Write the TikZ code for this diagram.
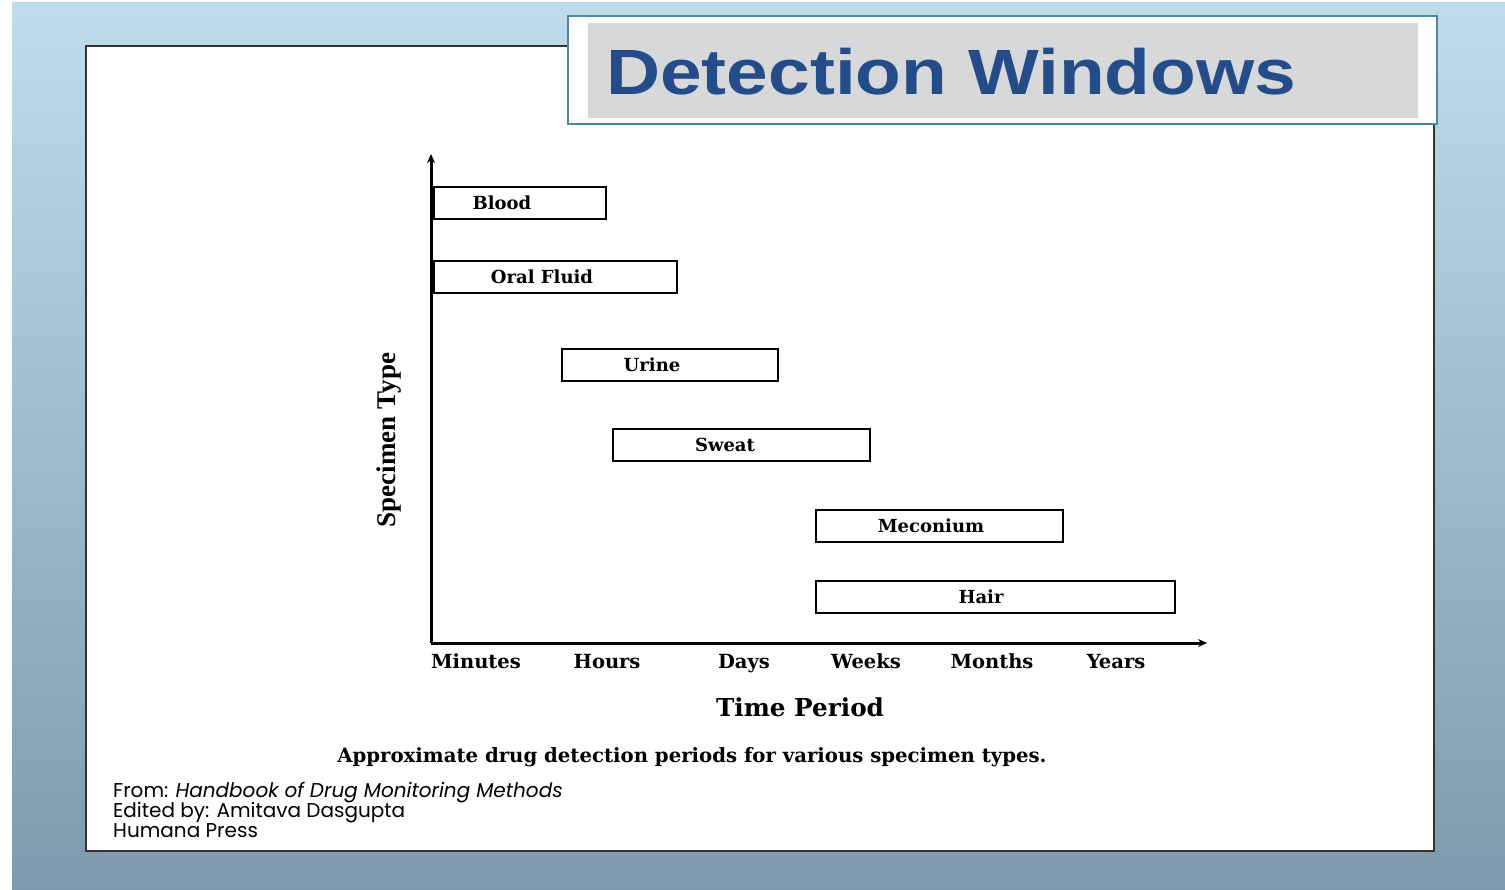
\documentclass[tikz,border=0pt]{standalone}
\usepackage{fontspec}
\usepackage{tikz}
\usetikzlibrary{arrows.meta}
\setmainfont{DejaVu Serif}
\newfontfamily\titlefont{Liberation Sans}
\newfontfamily\sidefont{Liberation Serif}
\newfontfamily\notefont{Poppins}
\definecolor{bgtop}{HTML}{BFDCEA}
\definecolor{bgbot}{HTML}{7D9BAC}
\definecolor{titleblue}{HTML}{244C88}
\definecolor{titleedge}{HTML}{4A88A6}
\definecolor{titlegrey}{HTML}{D7D8DA}

\begin{document}
\begin{tikzpicture}[x=1pt,y=-1pt,
  bar/.style={draw,line width=2pt,fill=white,anchor=west,minimum height=32pt,inner sep=0pt},
  barlabel/.style={font=\fontsize{18}{18}\selectfont\bfseries},
  tick/.style={anchor=base,font=\fontsize{19.5}{19.5}\selectfont\bfseries},
  source/.style={anchor=base west,inner sep=0pt,font=\fontsize{20}{20}\selectfont\notefont},
  axis/.style={line width=3pt,-{Stealth[length=9pt,width=8pt]}}]
  \useasboundingbox (0,0) rectangle (1505,890);
  % slide background
  \fill[white] (0,0) rectangle (1505,890);
  \shade[top color=bgtop,bottom color=bgbot] (12,3) rectangle (1505,890);
  \draw[fill=white,line width=1.2pt,draw=black!80] (86,46) rectangle (1434,851);
  % title
  \draw[fill=white,line width=1.5pt,draw=titleedge] (568,16) rectangle (1437,124);
  \fill[titlegrey] (588,23) rectangle (1418,118);
  \node[anchor=base west,inner sep=0pt,text=titleblue,xscale=1.17,
    font=\fontsize{64}{64}\selectfont\titlefont\bfseries] (title) at (606,95) {Detection Windows};
  % axes
  \coordinate (origin) at (431,643);
  \coordinate (ytop) at (431,154);
  \coordinate (xend) at (1207,643);
  \draw[axis] (origin) -- (ytop);
  \draw[axis] (origin) -- (xend);
  % specimen bars
  \node[bar,minimum width=172pt] (blood) at (433,203) {};
  \node[barlabel] (bloodlbl) at (502,203) {Blood};
  \node[bar,minimum width=243pt] (oral) at (433,277) {};
  \node[barlabel] (orallbl) at (542,277) {Oral Fluid};
  \node[bar,minimum width=216pt] (urine) at (561,365) {};
  \node[barlabel] (urinelbl) at (652,365) {Urine};
  \node[bar,minimum width=257pt] (sweat) at (612,445) {};
  \node[barlabel] (sweatlbl) at (725,445) {Sweat};
  \node[bar,minimum width=247pt] (mecon) at (815,526) {};
  \node[barlabel] (meconlbl) at (931,526) {Meconium};
  \node[bar,minimum width=359pt] (hair) at (815,597) {};
  \node[barlabel] (hairlbl) at (981,597) {Hair};
  % time ticks
  \node[tick] (minutes) at (476,668) {Minutes};
  \node[tick] (hours) at (607,668) {Hours};
  \node[tick] (days) at (744,668) {Days};
  \node[tick] (weeks) at (866,668) {Weeks};
  \node[tick] (months) at (992,668) {Months};
  \node[tick] (years) at (1116,668) {Years};
  \node[font=\fontsize{24.7}{24.7}\selectfont\bfseries] (xlabel) at (800,707) {Time Period};
  \node[rotate=90,font=\fontsize{27}{27}\selectfont\sidefont\bfseries] (ylabel) at (389,440) {Specimen Type};
  \node[font=\fontsize{19.7}{19.7}\selectfont\bfseries] (caption) at (692,757)
    {Approximate drug detection periods for various specimen types.};
  % source
  \node[source] (from) at (113,797) {From: \textit{Handbook of Drug Monitoring Methods}};
  \node[source] (editor) at (113,817) {Edited by: Amitava Dasgupta};
  \node[source] (press) at (113,837) {Humana Press};
\end{tikzpicture}
\end{document}
